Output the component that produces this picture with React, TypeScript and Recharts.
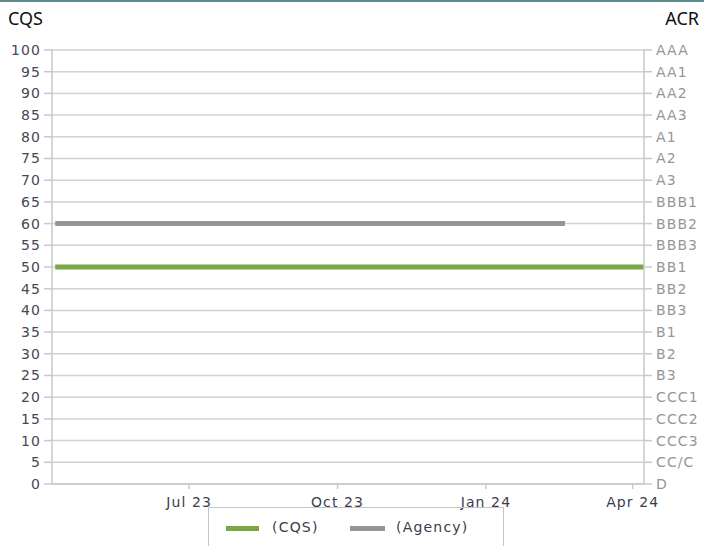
import { LineChart, Line, XAxis, YAxis, CartesianGrid } from "recharts";

const cqsDates = ["2023-04-09", "2024-04-08"];
const cqsValues = [50, 50];
const agencyDates = ["2023-04-09", "2024-02-19"];
const agencyValues = [60, 60];
const xTickDates = ["2023-07-01", "2023-10-01", "2024-01-01", "2024-04-01"];
const xTickLabels = ["Jul 23", "Oct 23", "Jan 24", "Apr 24"];
const xDomain = ["2023-04-07", "2024-04-08"];
const cqsTicks = [0, 5, 10, 15, 20, 25, 30, 35, 40, 45, 50, 55, 60, 65, 70, 75, 80, 85, 90, 95, 100];
const acrLabels = [
  "AAA", "AA1", "AA2", "AA3", "A1", "A2", "A3", "BBB1", "BBB2", "BBB3",
  "BB1", "BB2", "BB3", "B1", "B2", "B3", "CCC1", "CCC2", "CCC3", "CC/C", "D",
];

const ts = (d: string) => Date.parse(d + "T00:00:00Z");

const cqsData = cqsDates.map((d, i) => ({ t: ts(d), v: cqsValues[i] }));
const agencyData = agencyDates.map((d, i) => ({ t: ts(d), v: agencyValues[i] }));
const xTicks = xTickDates.map(ts);

const GREEN = "#78a843";
const GREY = "#959595";
const AXIS = "#c9c9c9";
const FONT = "'DejaVu Sans', sans-serif";

export default function App() {
  return (
    <div
      style={{
        position: "absolute",
        left: 0,
        top: 0,
        width: 704,
        height: 546,
        background: "#fff",
        overflow: "hidden",
        fontFamily: FONT,
      }}
    >
      <style>{`.recharts-cartesian-axis-tick-value { letter-spacing: 1.1px; }`}</style>
      <div style={{ position: "absolute", left: 0, top: 0, width: 704, height: 2, background: "#5d8b8b" }} />
      <div style={{ position: "absolute", left: 8, top: 6, fontFamily: "'Noto Sans', sans-serif", fontSize: 18, color: "#111" }}>
        CQS
      </div>
      <div style={{ position: "absolute", right: 5, top: 6, fontFamily: "'Noto Sans', sans-serif", fontSize: 18, color: "#111" }}>
        ACR
      </div>

      <div style={{ position: "absolute", left: 0, top: 0 }}>
        <LineChart width={704} height={546} margin={{ top: 50, right: 0, left: 0, bottom: 32 }}>
          <CartesianGrid yAxisId="left" vertical={false} stroke="#d2d2d2" strokeWidth={1.5} />
          <XAxis
            dataKey="t"
            type="number"
            scale="time"
            domain={[ts(xDomain[0]), ts(xDomain[1])]}
            ticks={xTicks}
            tickFormatter={(v: number) => xTickLabels[xTicks.indexOf(v)] ?? ""}
            height={30}
            tickSize={5}
            tickMargin={8}
            axisLine={{ stroke: AXIS, strokeWidth: 1.5 }}
            tickLine={{ stroke: AXIS, strokeWidth: 1.5 }}
            tick={{ fill: "#3c3c4c", fontSize: 14, fontFamily: FONT }}
            allowDuplicatedCategory={false}
          />
          <YAxis
            yAxisId="left"
            type="number"
            width={52}
            domain={[0, 100]}
            allowDataOverflow
            ticks={cqsTicks}
            interval={0}
            tickSize={8}
            tickMargin={3}
            axisLine={{ stroke: AXIS, strokeWidth: 1.5 }}
            tickLine={{ stroke: AXIS, strokeWidth: 1.5 }}
            tick={{ fill: "#464658", fontSize: 14, fontFamily: FONT }}
          />
          <YAxis
            yAxisId="right"
            type="number"
            orientation="right"
            width={60}
            domain={[0, 100]}
            allowDataOverflow
            ticks={cqsTicks}
            interval={0}
            tickSize={8}
            tickMargin={4}
            tickFormatter={(v: number) => acrLabels[(100 - v) / 5] ?? ""}
            axisLine={{ stroke: AXIS, strokeWidth: 1.5 }}
            tickLine={{ stroke: AXIS, strokeWidth: 1.5 }}
            tick={{ fill: "#969696", fontSize: 14, fontFamily: FONT }}
          />
          <Line
            yAxisId="left"
            data={cqsData}
            dataKey="v"
            type="linear"
            stroke={GREEN}
            strokeWidth={5}
            dot={false}
            isAnimationActive={false}
          />
          <Line
            yAxisId="right"
            data={agencyData}
            dataKey="v"
            type="linear"
            stroke={GREY}
            strokeWidth={5}
            dot={false}
            isAnimationActive={false}
          />
        </LineChart>
      </div>

      <div
        style={{
          position: "absolute",
          left: 208,
          top: 507,
          width: 294,
          height: 50,
          borderLeft: "1.5px solid #c4c4c4",
          borderTop: "1.5px solid #c4c4c4",
          borderRight: "1.5px solid #c4c4c4",
          fontFamily: FONT,
          fontSize: 14,
          letterSpacing: 1.2,
          color: "#3c3c4c",
        }}
      >
        <div style={{ position: "absolute", left: 17, top: 18, width: 33, height: 5, background: GREEN }} />
        <div style={{ position: "absolute", left: 63, top: 11 }}>(CQS)</div>
        <div style={{ position: "absolute", left: 141, top: 18, width: 35, height: 5, background: GREY }} />
        <div style={{ position: "absolute", left: 187, top: 11 }}>(Agency)</div>
      </div>
    </div>
  );
}
